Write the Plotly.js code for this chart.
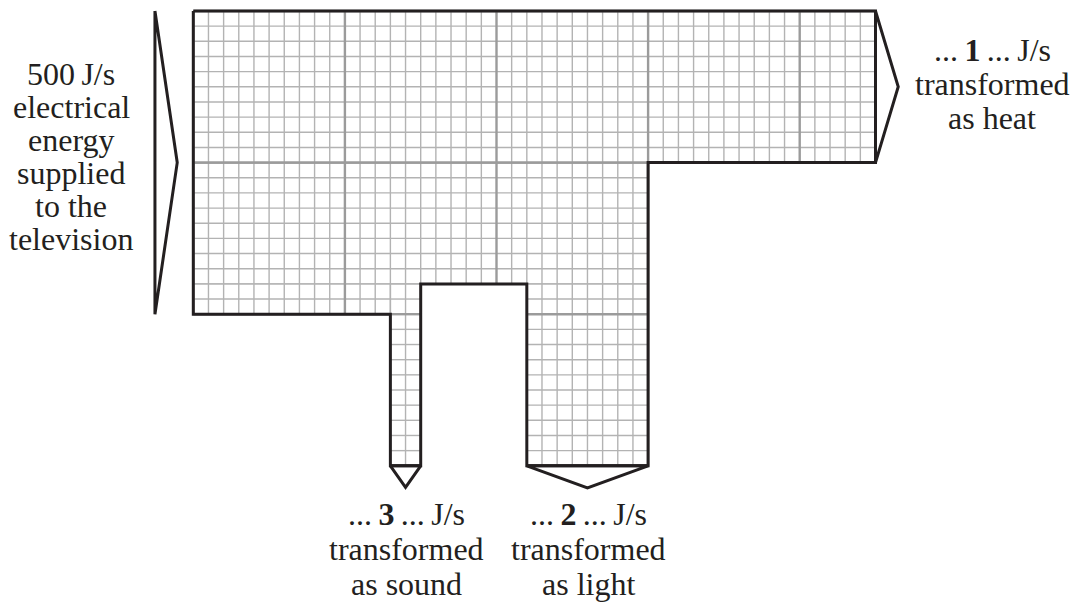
<!DOCTYPE html>
<html>
<head>
<meta charset="utf-8">
<script src="https://cdn.plot.ly/plotly-3.0.1.min.js"></script>
<style>html,body{margin:0;padding:0;background:#fff;}#chart{width:1075px;height:602px;}</style>
</head>
<body>
<div id="chart"></div>
<script>
// ---- data ----
const inputPower = 500;               // J/s supplied
const outputNames = ['heat', 'light', 'sound'];
const outputValues = [250, 200, 50];  // J/s
const answerLabels = ['1', '2', '3'];
const joulesPerSquare = 25;           // one small grid square

// ---- derived geometry (grid units: 1 = one small square) ----
const inH = inputPower / joulesPerSquare;            // 20
const heatH = outputValues[0] / joulesPerSquare;     // 10
const lightW = outputValues[1] / joulesPerSquare;    // 8
const soundW = outputValues[2] / joulesPerSquare;    // 2
const soundX = 13, notchTop = 18, chanBottom = 30, heatRight = 45;
const lightX = 30 - lightW;                          // 22
const bodyRight = lightX + lightW;                   // 30

const rects = [
  [0, heatRight, 0, heatH],
  [0, bodyRight, heatH, notchTop],
  [0, soundX, notchTop, inH],
  [soundX, soundX + soundW, notchTop, chanBottom],
  [lightX, bodyRight, notchTop, chanBottom]
];

function gridLines(major) {
  const xs = [], ys = [];
  rects.forEach(([x0, x1, y0, y1]) => {
    for (let k = Math.ceil(x0); k <= x1; k++) {
      if ((k % 10 === 0) !== major) continue;
      xs.push(k, k, null); ys.push(y0, y1, null);
    }
    for (let k = Math.ceil(y0); k <= y1; k++) {
      if ((k % 10 === 0) !== major) continue;
      xs.push(x0, x1, null); ys.push(k, k, null);
    }
  });
  return {xs, ys};
}
const minor = gridLines(false), major = gridLines(true);

const outline = {
  x: [0, heatRight, heatRight, bodyRight, bodyRight, lightX, lightX, soundX + soundW, soundX + soundW, soundX, soundX, 0, 0],
  y: [0, 0, heatH, heatH, chanBottom, chanBottom, notchTop, notchTop, chanBottom, chanBottom, inH, inH, 0]
};

const ink = '#231f20';
const traces = [
  {x: minor.xs, y: minor.ys, mode: 'lines', line: {color: '#b3b3b3', width: 1.4}, hoverinfo: 'skip'},
  {x: major.xs, y: major.ys, mode: 'lines', line: {color: '#9b9b9b', width: 2.4}, hoverinfo: 'skip'},
  {x: outline.x, y: outline.y, mode: 'lines', line: {color: ink, width: 3}, hoverinfo: 'skip'},
  // input arrow
  {x: [-2.53, -1.06, -2.53, -2.53], y: [0, inH / 2, inH, 0], mode: 'lines', line: {color: ink, width: 3}, hoverinfo: 'skip'},
  // heat arrow
  {x: [heatRight, heatRight + 1.5, heatRight], y: [0, heatH / 2, heatH], mode: 'lines', line: {color: ink, width: 3}, hoverinfo: 'skip'},
  // sound arrow
  {x: [soundX, soundX + soundW / 2, soundX + soundW, soundX], y: [chanBottom, chanBottom + 1.43, chanBottom, chanBottom], mode: 'lines', line: {color: ink, width: 3}, hoverinfo: 'skip'},
  // light arrow
  {x: [lightX, lightX + lightW / 2, bodyRight, lightX], y: [chanBottom, chanBottom + 1.46, chanBottom, chanBottom], mode: 'lines', line: {color: ink, width: 3}, hoverinfo: 'skip'}
];

const thin = '\u2009';
function lbl(text, px, py) {
  return {text: text, x: px / 1075, y: 1 - py / 602, xref: 'paper', yref: 'paper',
          xanchor: 'center', yanchor: 'middle', showarrow: false,
          font: {family: 'Liberation Serif', size: 32, color: ink}};
}
const lines = (arr, px, py0, dy) => arr.map((t, i) => lbl(t, px, py0 + i * dy));
const ans = l => '...' + thin + '<b>' + l + '</b>' + thin + '...' + thin + 'J/s';

const annotations = [].concat(
  lines([inputPower + thin + 'J/s', 'electrical', 'energy', 'supplied', 'to the', 'television'], 71, 74, 33),
  lines([ans(answerLabels[0]), 'transformed', 'as ' + outputNames[0]], 992, 50, 34),
  lines([ans(answerLabels[2]), 'transformed', 'as ' + outputNames[2]], 406, 514, 35),
  lines([ans(answerLabels[1]), 'transformed', 'as ' + outputNames[1]], 588, 514, 35)
);

const layout = {
  width: 1075, height: 602,
  margin: {l: 0, r: 0, t: 0, b: 0},
  paper_bgcolor: '#fff', plot_bgcolor: '#fff',
  font: {family: 'Liberation Serif'},
  showlegend: false,
  xaxis: {range: [-193.3 / 15.16, (1075 - 193.3) / 15.16], visible: false, fixedrange: true},
  yaxis: {range: [(602 - 11) / 15.16, -11 / 15.16], visible: false, fixedrange: true},
  annotations: annotations
};
Plotly.newPlot('chart', traces, layout, {displayModeBar: false, staticPlot: true});
</script>
</body>
</html>
